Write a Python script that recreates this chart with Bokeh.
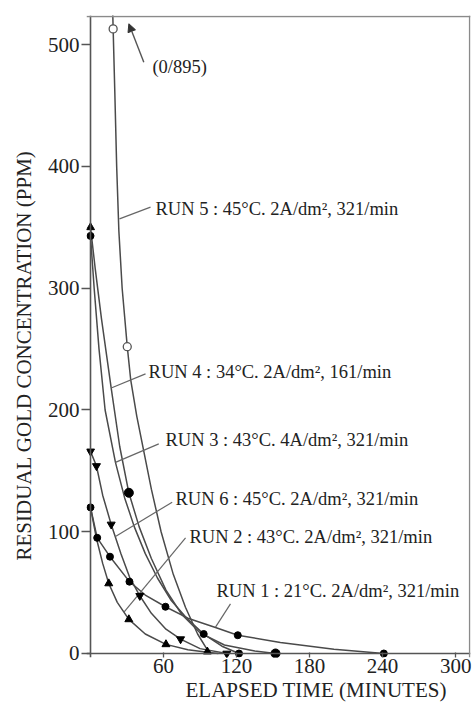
from bokeh.plotting import figure
from bokeh.models import Range1d, FixedTicker, Span, Title, Arrow, NormalHead, ColumnDataSource
from bokeh.embed import file_html
from bokeh.resources import INLINE
from bokeh.core.properties import value

# ---------------- data ----------------
x_ticks = [60, 120, 180, 240, 300]
y_ticks = [0, 100, 200, 300, 400, 500]

# RUN 1 : 21°C
run1_curve_t = [0, 5.5, 16, 32, 45, 61.6, 80, 102.7, 121, 156, 200, 241]
run1_curve_c = [120, 95, 79.5, 59, 48, 38.4, 29, 21.4, 15, 9, 3.5, 0]
run1_mark_t = [0, 5.5, 16, 32, 61.6, 121, 241]
run1_mark_c = [120, 95, 79.5, 59, 38.4, 15, 0]

# RUN 2 : 43°C 2A
run2_curve_t = [0, 5, 10, 15, 22, 31.5, 45, 62, 80, 96, 105]
run2_curve_c = [120, 94, 74, 57.5, 42, 28, 16, 7.5, 3, 1, 0]
run2_mark_t = [15, 31.5, 62, 96]
run2_mark_c = [57.5, 28, 7.5, 1.5]

# RUN 3 : 43°C 4A
run3_curve_t = [0, 3, 7, 12, 20.5, 28, 36, 45, 55, 66, 80, 93, 108, 122]
run3_curve_c = [343, 300, 250, 200, 157, 128, 104, 82, 62, 44, 28, 16, 6, 0]
run3_mark_t = [0, 93, 122]
run3_mark_c = [343, 16, 0]

# RUN 4 : 34°C 16 l/min
run4_curve_t = [0, 4, 9, 17, 24, 31.5, 40, 50, 62, 75, 90, 110, 135, 152]
run4_curve_c = [350, 315, 275, 218, 170, 132, 104, 78, 52, 32, 17, 7, 2, 0]
run4_mark_t = [0]
run4_mark_c = [350]
run4_big_t = [31.5, 152]
run4_big_c = [132, 0]

# RUN 5 : 45°C (starts at 895 ppm, off scale)
run5_curve_t = [17.9, 18.6, 20, 21.5, 23.3, 26, 30.2, 33, 38, 43.8, 50, 58, 68, 78, 88, 96, 100]
run5_curve_c = [540, 513, 460, 400, 347, 300, 252, 225, 195, 166, 135, 100, 65, 38, 16, 3, 0]
run5_mark_t = [18.6, 30.2]
run5_mark_c = [513, 252]

# RUN 6 : 45°C 2A
run6_curve_t = [0, 4.9, 10, 17, 25, 32, 40.5, 50, 62, 74, 90, 112]
run6_curve_c = [166, 154, 130, 106, 82, 63, 47.4, 33, 20, 11.8, 4, 0]
run6_mark_t = [0, 4.9, 17, 40.5, 74, 112]
run6_mark_c = [166, 154, 106, 47.4, 11.8, 0]

label_texts = [
    "RUN 5 : 45°C. 2A/dm², 321/min",
    "RUN 4 : 34°C. 2A/dm², 161/min",
    "RUN 3 : 43°C. 4A/dm², 321/min",
    "RUN 6 : 45°C. 2A/dm², 321/min",
    "RUN 2 : 43°C. 2A/dm², 321/min",
    "RUN 1 : 21°C. 2A/dm², 321/min",
    "(0/895)",
]
label_t = [53.4, 47.7, 61.6, 69.8, 81.3, 103.5, 50.9]
label_c = [364.7, 231.0, 175.5, 127.0, 95.5, 51.7, 481.6]

leader_t0 = [23.8, 17.0, 20.5, 20.5, 27.5, 102.7]
leader_c0 = [357, 218, 157, 96, 34, 21.6]
leader_t1 = [49.3, 45.2, 56.1, 67.1, 78.1, 115.0]
leader_c1 = [366.6, 229.7, 172.2, 124.3, 95.0, 40.8]

arrow_from = (43.8, 485.6)
arrow_to = (31.5, 517.2)

x_title = "ELAPSED TIME (MINUTES)"
y_title = "RESIDUAL GOLD CONCENTRATION (PPM)"

# ---------------- figure ----------------
FONT = "Liberation Serif"
LINE = "#4a4a4a"

p = figure(width=472, height=705, output_backend="svg", toolbar_location=None,
           x_range=Range1d(-3.29, 312.2), y_range=Range1d(-3.29, 524.0),
           min_border_left=86, min_border_right=2, min_border_top=15, min_border_bottom=48)
p.outline_line_color = None
p.grid.visible = False
p.background_fill_color = "white"

for ax in (p.xaxis, p.yaxis):
    ax.axis_line_color = None
    ax.major_tick_line_color = "#555555"
    ax.major_tick_line_width = 1.3
    ax.minor_tick_line_color = None
    ax.major_label_text_font = FONT
    ax.major_label_text_font_size = "21px"
    ax.major_label_text_color = "#222222"

p.xaxis.ticker = FixedTicker(ticks=x_ticks)
p.yaxis.ticker = FixedTicker(ticks=y_ticks)
p.yaxis.major_tick_out = 5
p.yaxis.major_tick_in = 4
p.yaxis.major_label_standoff = 2
p.xaxis.major_tick_out = 0
p.xaxis.major_tick_in = 5
p.xaxis.major_label_standoff = 1

# axis titles as side titles (allow offsets like the reference)
p.add_layout(Title(text=y_title, align="left", offset=97, standoff=18,
                   text_font=FONT, text_font_size="21px", text_font_style="normal",
                   text_color="#222222"), "left")
p.add_layout(Title(text=x_title, align="left", offset=99, standoff=0,
                   text_font=FONT, text_font_size="21px", text_font_style="normal",
                   text_color="#222222"), "below")

# axis lines at 0 and frame border (top / right)
p.add_layout(Span(location=0, dimension="height", line_color="#555555", line_width=1.6))
p.add_layout(Span(location=0, dimension="width", line_color="#555555", line_width=1.6))
p.add_layout(Span(location=523.2, dimension="width", line_color="#8a8a8a", line_width=1.5))
p.add_layout(Span(location=311.5, dimension="height", line_color="#8a8a8a", line_width=1.5))

# curves
for tt, cc in [(run1_curve_t, run1_curve_c), (run2_curve_t, run2_curve_c),
               (run3_curve_t, run3_curve_c), (run4_curve_t, run4_curve_c),
               (run5_curve_t, run5_curve_c), (run6_curve_t, run6_curve_c)]:
    p.line(tt, cc, line_color=LINE, line_width=1.5)

# leaders
p.segment(leader_t0, leader_c0, leader_t1, leader_c1, line_color="#666666", line_width=1.2)
p.add_layout(Arrow(end=NormalHead(size=8, fill_color="#333333", line_color="#333333"),
                   x_start=arrow_from[0], y_start=arrow_from[1],
                   x_end=arrow_to[0], y_end=arrow_to[1],
                   line_color="#555555", line_width=1.4))

# markers
p.scatter(run1_mark_t, run1_mark_c, marker="circle", size=7, color="black")
p.scatter(run3_mark_t, run3_mark_c, marker="circle", size=7, color="black")
p.scatter(run4_mark_t, run4_mark_c, marker="triangle", size=8, color="black")
p.scatter(run4_big_t, run4_big_c, marker="circle", size=9, color="black")
p.scatter(run2_mark_t, run2_mark_c, marker="triangle", size=8, color="black")
p.scatter(run6_mark_t, run6_mark_c, marker="inverted_triangle", size=8, color="black")
p.scatter(run5_mark_t, run5_mark_c, marker="circle", size=8, fill_color="white",
          line_color="#555555", line_width=1.3)

# labels
src = ColumnDataSource(dict(x=label_t, y=label_c, text=label_texts))
p.text(x="x", y="y", text="text", source=src, text_font=value(FONT),
       text_font_size=value("18.5px"), text_baseline="middle", text_align="left",
       text_color="#222222")

open("out.html", "w").write(file_html(p, INLINE))
